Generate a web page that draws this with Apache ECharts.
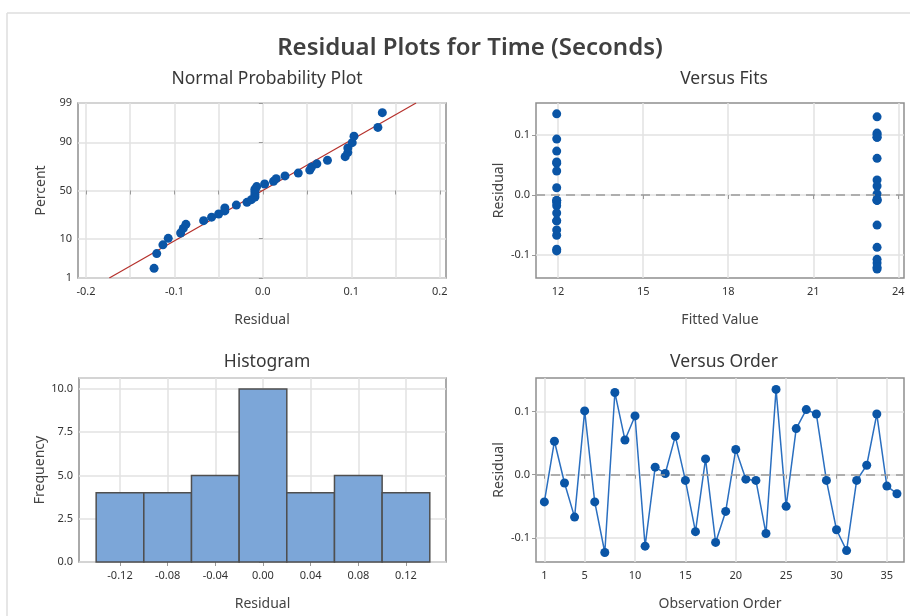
<!DOCTYPE html>
<html>
<head>
<meta charset="utf-8">
<title>Residual Plots for Time (Seconds)</title>
<script src="https://cdn.jsdelivr.net/npm/echarts@6/dist/echarts.min.js"></script>
<style>
  html, body { margin: 0; padding: 0; background: #fff; }
  #main { width: 910px; height: 616px; }
</style>
</head>
<body>
<div id="main"></div>
<script>
// residuals by observation order (1..36)
var residuals = [-0.043, 0.053, -0.013, -0.067, 0.101, -0.043, -0.123, 0.130, 0.055, 0.093,
  -0.113, 0.012, 0.002, 0.061, -0.009, -0.090, 0.025, -0.107, -0.058, 0.040,
  -0.007, -0.009, -0.093, 0.135, -0.050, 0.073, 0.103, 0.096, -0.009, -0.087,
  -0.120, -0.009, 0.015, 0.096, -0.018, -0.030];
// fitted value for each observation (two groups)
var fitted = [11.95, 11.95, 11.95, 11.95, 23.25, 11.95, 23.25, 23.25, 11.95, 11.95,
  23.25, 11.95, 23.25, 23.25, 11.95, 11.95, 23.25, 23.25, 11.95, 11.95,
  23.25, 11.95, 11.95, 11.95, 23.25, 11.95, 23.25, 23.25, 23.25, 23.25,
  23.25, 23.25, 23.25, 23.25, 11.95, 11.95];
// histogram bins
var histEdges = [-0.14, -0.10, -0.06, -0.02, 0.02, 0.06, 0.10, 0.14];
var histCounts = [4, 4, 5, 10, 4, 5, 4];
// tick labels
var percentTicks = [1, 10, 50, 90, 99];
var nppResidTicks = [-0.2, -0.1, 0, 0.1, 0.2];
var nppResidGrid = [-0.2, -0.15, -0.1, -0.05, 0, 0.05, 0.1, 0.15, 0.2];
var fitTicks = [12, 15, 18, 21, 24];
var residTicks = [-0.1, 0, 0.1];
var histTicks = [-0.12, -0.08, -0.04, 0, 0.04, 0.08, 0.12];
var orderTicks = [1, 5, 10, 15, 20, 25, 30, 35];

// inverse standard normal (Acklam)
function invNorm(p) {
  var a = [-39.69683028665376, 220.9460984245205, -275.9285104469687, 138.3577518672690, -30.66479806614716, 2.506628277459239];
  var b = [-54.47609879822406, 161.5858368580409, -155.6989798598866, 66.80131188771972, -13.28068155288572];
  var c = [-0.007784894002430293, -0.3223964580411365, -2.400758277161838, -2.549732539343734, 4.374664141464968, 2.938163982698783];
  var d = [0.007784695709041462, 0.3224671290700398, 2.445134137142996, 3.754408661907416];
  var q, r;
  if (p < 0.02425) {
    q = Math.sqrt(-2 * Math.log(p));
    return (((((c[0]*q+c[1])*q+c[2])*q+c[3])*q+c[4])*q+c[5]) / ((((d[0]*q+d[1])*q+d[2])*q+d[3])*q+1);
  } else if (p > 1 - 0.02425) {
    q = Math.sqrt(-2 * Math.log(1 - p));
    return -(((((c[0]*q+c[1])*q+c[2])*q+c[3])*q+c[4])*q+c[5]) / ((((d[0]*q+d[1])*q+d[2])*q+d[3])*q+1);
  }
  q = p - 0.5; r = q * q;
  return (((((a[0]*r+a[1])*r+a[2])*r+a[3])*r+a[4])*r+a[5])*q / (((((b[0]*r+b[1])*r+b[2])*r+b[3])*r+b[4])*r+1);
}

var n = residuals.length;
var sorted = residuals.slice().sort(function (a, b) { return a - b; });
var nppPoints = sorted.map(function (r, i) { return [r, invNorm((i + 1 - 0.3) / (n + 0.4))]; });
var mean = residuals.reduce(function (s, v) { return s + v; }, 0) / n;
var sd = Math.sqrt(residuals.reduce(function (s, v) { return s + (v - mean) * (v - mean); }, 0) / (n - 1));
var zTicks = percentTicks.map(function (p) { return invNorm(p / 100); });
var zMin = zTicks[0], zMax = zTicks[zTicks.length - 1];
var fitLine = [[mean + sd * zMin, zMin], [mean + sd * zMax, zMax]];

var font = 'Noto Sans';
var blue = '#0a55a6';
var gridLine = { show: true, lineStyle: { color: '#e2e2e2', width: 1.5 } };
var tickStyle = { show: true, length: 4, lineStyle: { color: '#9a9a9a' } };
var labelStyle = { color: '#333', fontSize: 11, fontFamily: font };
var nameStyle = { color: '#444', fontSize: 14, fontFamily: font };
var subTitle = { fontFamily: font, fontSize: 17.5, fontWeight: 'normal', color: '#383838' };

function gridBox(left, top, width, height) {
  return { left: left, top: top, width: width, height: height, show: true,
    borderColor: '#8e8e8e', borderWidth: 1.5, backgroundColor: '#fff' };
}

function fmt(d) { return function (v) { return (Math.abs(v) < 1e-9 ? 0 : v).toFixed(d); }; }

var myChart = echarts.init(document.getElementById('main'));
myChart.setOption({
  backgroundColor: '#fff',
  animation: false,
  graphic: [
    { type: 'line', shape: { x1: 7, y1: 13, x2: 910, y2: 13 }, style: { stroke: '#dedede', lineWidth: 1.5 } },
    { type: 'line', shape: { x1: 7, y1: 13, x2: 7, y2: 616 }, style: { stroke: '#dedede', lineWidth: 1.5 } }
  ],
  title: [
    { text: 'Residual Plots for Time (Seconds)', left: 465, top: 31, textAlign: 'center',
      textStyle: { fontFamily: font, fontSize: 24, fontWeight: 600, color: '#404040' } },
    { text: 'Normal Probability Plot', left: 262, top: 65, textAlign: 'center', textStyle: subTitle },
    { text: 'Versus Fits', left: 719, top: 65, textAlign: 'center', textStyle: subTitle },
    { text: 'Histogram', left: 262, top: 348, textAlign: 'center', textStyle: subTitle },
    { text: 'Versus Order', left: 719, top: 348, textAlign: 'center', textStyle: subTitle }
  ],
  grid: [
    gridBox(78, 103, 368, 175),
    gridBox(536, 103, 368, 175),
    gridBox(79, 378, 367, 184),
    gridBox(536, 378, 368, 184)
  ],
  xAxis: [
    { gridIndex: 0, type: 'value', min: -0.209, max: 0.207, name: 'Residual', nameLocation: 'middle', nameGap: 35,
      nameTextStyle: nameStyle, axisLine: { show: false }, axisTick: Object.assign({ customValues: nppResidGrid }, tickStyle),
      axisLabel: Object.assign({ customValues: nppResidTicks, formatter: fmt(1), margin: 8 }, labelStyle), splitLine: gridLine },
    { gridIndex: 1, type: 'value', min: 11.22, max: 24.2, name: 'Fitted Value', nameLocation: 'middle', nameGap: 35,
      nameTextStyle: nameStyle, axisLine: { show: false }, axisTick: Object.assign({ customValues: fitTicks }, tickStyle),
      axisLabel: Object.assign({ customValues: fitTicks, margin: 8 }, labelStyle), splitLine: gridLine },
    { gridIndex: 2, type: 'value', min: -0.1544, max: 0.1536, name: 'Residual', nameLocation: 'middle', nameGap: 35,
      nameTextStyle: nameStyle, axisLine: { show: false }, axisTick: Object.assign({ customValues: histTicks }, tickStyle),
      axisLabel: Object.assign({ customValues: histTicks, formatter: fmt(2), margin: 8 }, labelStyle), splitLine: gridLine },
    { gridIndex: 3, type: 'value', min: 0.17, max: 36.7, name: 'Observation Order', nameLocation: 'middle', nameGap: 35,
      nameTextStyle: nameStyle, axisLine: { show: false }, axisTick: Object.assign({ customValues: orderTicks }, tickStyle),
      axisLabel: Object.assign({ customValues: orderTicks, margin: 8 }, labelStyle), splitLine: gridLine }
  ],
  yAxis: [
    { gridIndex: 0, type: 'value', min: zMin, max: zMax, name: 'Percent', nameLocation: 'middle', nameGap: 30,
      nameTextStyle: nameStyle, axisLine: { show: false }, axisTick: Object.assign({ customValues: zTicks }, tickStyle),
      axisLabel: Object.assign({ customValues: zTicks, margin: 6, formatter: function (v) {
        var i = zTicks.findIndex(function (z) { return Math.abs(z - v) < 1e-6; });
        return i < 0 ? '' : String(percentTicks[i]);
      } }, labelStyle), splitLine: gridLine },
    { gridIndex: 1, type: 'value', min: -0.138, max: 0.153, name: 'Residual', nameLocation: 'middle', nameGap: 30,
      nameTextStyle: nameStyle, axisLine: { show: false }, axisTick: Object.assign({ customValues: residTicks }, tickStyle),
      axisLabel: Object.assign({ customValues: residTicks, formatter: fmt(1), margin: 6 }, labelStyle), splitLine: gridLine },
    { gridIndex: 2, type: 'value', min: 0, max: 10.63, interval: 2.5, name: 'Frequency', nameLocation: 'middle', nameGap: 32,
      nameTextStyle: nameStyle, axisLine: { show: false }, axisTick: tickStyle,
      axisLabel: Object.assign({ formatter: fmt(1), margin: 6, showMaxLabel: false }, labelStyle), splitLine: gridLine },
    { gridIndex: 3, type: 'value', min: -0.138, max: 0.153, name: 'Residual', nameLocation: 'middle', nameGap: 30,
      nameTextStyle: nameStyle, axisLine: { show: false }, axisTick: Object.assign({ customValues: residTicks }, tickStyle),
      axisLabel: Object.assign({ customValues: residTicks, formatter: fmt(1), margin: 6 }, labelStyle), splitLine: gridLine }
  ],
  series: [
    { type: 'line', xAxisIndex: 0, yAxisIndex: 0, data: fitLine, symbol: 'none', silent: true,
      lineStyle: { color: '#b5302b', width: 1.2 }, z: 3 },
    { type: 'scatter', xAxisIndex: 0, yAxisIndex: 0, data: nppPoints, symbolSize: 9,
      itemStyle: { color: blue, opacity: 1 }, z: 4 },
    { type: 'scatter', xAxisIndex: 1, yAxisIndex: 1, symbolSize: 9, itemStyle: { color: blue, opacity: 1 }, z: 4,
      data: residuals.map(function (r, i) { return [fitted[i], r]; }),
      markLine: { silent: true, symbol: 'none', label: { show: false },
        lineStyle: { color: '#9a9a9a', type: [9, 6], width: 1.5 }, data: [{ yAxis: 0 }] } },
    { type: 'custom', xAxisIndex: 2, yAxisIndex: 2,
      data: histCounts.map(function (c, i) { return [histEdges[i], histEdges[i + 1], c]; }),
      renderItem: function (params, api) {
        var p0 = api.coord([api.value(0), api.value(2)]);
        var p1 = api.coord([api.value(1), 0]);
        return { type: 'rect', shape: { x: p0[0], y: p0[1], width: p1[0] - p0[0], height: p1[1] - p0[1] },
          style: { fill: '#7ca6d8', stroke: '#4f4f4f', lineWidth: 1.5 } };
      }, z: 3 },
    { type: 'line', xAxisIndex: 3, yAxisIndex: 3, symbol: 'circle', symbolSize: 9,
      data: residuals.map(function (r, i) { return [i + 1, r]; }),
      lineStyle: { color: '#2a6fc0', width: 1.5 }, itemStyle: { color: blue }, z: 4,
      markLine: { silent: true, symbol: 'none', label: { show: false },
        lineStyle: { color: '#9a9a9a', type: [9, 6], width: 1.5 }, data: [{ yAxis: 0 }] } }
  ]
});
</script>
</body>
</html>
